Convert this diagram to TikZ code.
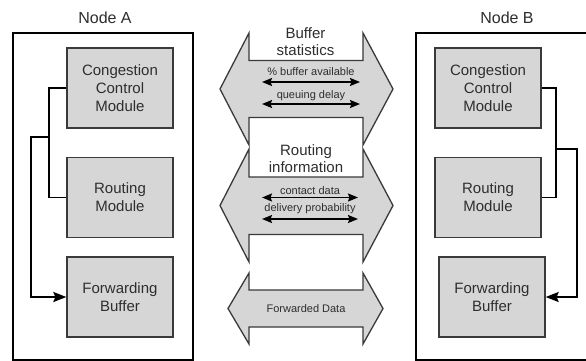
\documentclass[tikz,border=0pt]{standalone}
\usepackage{fontspec}
\setmainfont{Liberation Sans}
\usetikzlibrary{arrows.meta}
\definecolor{boxgray}{HTML}{D6D6D6}
\definecolor{edgegray}{HTML}{3A3A3A}
\definecolor{txtgray}{HTML}{2E2E2E}
\tikzset{
  outerbox/.style={draw=black, line width=1.6pt, fill=none},
  modbox/.style={draw=edgegray, line width=1.3pt, fill=boxgray, minimum width=106pt, minimum height=80pt, inner sep=0pt, align=center, text=txtgray, font=\fontsize{15}{18}\selectfont},
  nodelabel/.style={text=txtgray, font=\fontsize{16}{19}\selectfont, inner sep=0pt},
  biglabel/.style={text=txtgray, font=\fontsize{15}{17}\selectfont, align=center, inner sep=0pt},
  smalllabel/.style={text=txtgray, font=\fontsize{11}{13}\selectfont, inner sep=0pt},
  bigarrow/.style={draw=edgegray, line width=1.3pt, fill=boxgray, line join=miter},
  wire/.style={draw=black, line width=1.8pt},
  wirearrow/.style={wire, -{Stealth[length=13pt,width=10pt,inset=2pt]}},
  dblarrow/.style={draw=black, line width=1.6pt, {Stealth[length=10pt,width=8pt,inset=1.5pt]}-{Stealth[length=10pt,width=8pt,inset=1.5pt]}},
}
\begin{document}
\begin{tikzpicture}[x=1pt, y=-1pt]
\clip (0,0) rectangle (586,360);
\fill[white] (0,0) rectangle (586,360);

% ---------- Node A ----------
\node[nodelabel] (labA) at (105,18) {Node A};
\draw[outerbox] (13,33) rectangle (193,360);
\node[modbox] (ccA) at (120,88) {Congestion\\Control\\Module};
\node[modbox] (rtA) at (120,197.5) {Routing\\Module};
\node[modbox] (fbA) at (120,297) {Forwarding\\Buffer};
\coordinate (jA) at (49,137);
\draw[wire] (ccA.west) -| (jA) |- (rtA.west);
\draw[wirearrow] (jA) -- (31,137) |- (fbA.west);

% ---------- Node B ----------
\node[nodelabel] (labB) at (507,18) {Node B};
\draw[outerbox] (416,33) rectangle (600,360);
\node[modbox] (ccB) at (488,88) {Congestion\\Control\\Module};
\node[modbox] (rtB) at (488,197.5) {Routing\\Module};
\node[modbox] (fbB) at (492,297) {Forwarding\\Buffer};
\coordinate (jB) at (556,149);
\draw[wire] (ccB.east) -| (jB) |- (rtB.east);
\draw[wirearrow] (jB) -- (577,149) |- (fbB.east);

% ---------- Middle: Buffer statistics ----------
\draw[bigarrow] (249,33) -- (249,60.5) -- (363,60.5) -- (363,33) -- (393,89) -- (363,145) -- (363,117.5) -- (249,117.5) -- (249,145) -- (220,89) -- cycle;
\node[biglabel] (bs) at (305.5,41.5) {Buffer\\statistics};
\node[smalllabel] (pba) at (311,72) {\% buffer available};
\coordinate (a1l) at (262,82);
\coordinate (a1r) at (360,82);
\draw[dblarrow] (a1l) -- (a1r);
\node[smalllabel] (qd) at (311,96) {queuing delay};
\coordinate (a2l) at (262,104);
\coordinate (a2r) at (360,104);
\draw[dblarrow] (a2l) -- (a2r);

% ---------- Middle: Routing information ----------
\draw[bigarrow] (249,149) -- (249,177) -- (363,177) -- (363,149) -- (393,205.5) -- (363,262) -- (363,234.5) -- (249,234.5) -- (249,262) -- (220,205.5) -- cycle;
\node[biglabel] (ri) at (306,158.5) {Routing\\information};
\node[smalllabel] (cd) at (310,190.5) {contact data};
\coordinate (a3l) at (262,197.5);
\coordinate (a3r) at (358,197.5);
\draw[dblarrow] (a3l) -- (a3r);
\node[smalllabel] (dp) at (310,208.5) {delivery probability};
\coordinate (a4l) at (262,219);
\coordinate (a4r) at (358,219);
\draw[dblarrow] (a4l) -- (a4r);

% ---------- Middle: Forwarded Data ----------
\draw[bigarrow] (249,273) -- (249,290) -- (363,290) -- (363,273) -- (383,308.5) -- (363,344) -- (363,327) -- (249,327) -- (249,344) -- (228,308.5) -- cycle;
\node[smalllabel] (fd) at (306,309) {Forwarded Data};
\end{tikzpicture}
\end{document}
